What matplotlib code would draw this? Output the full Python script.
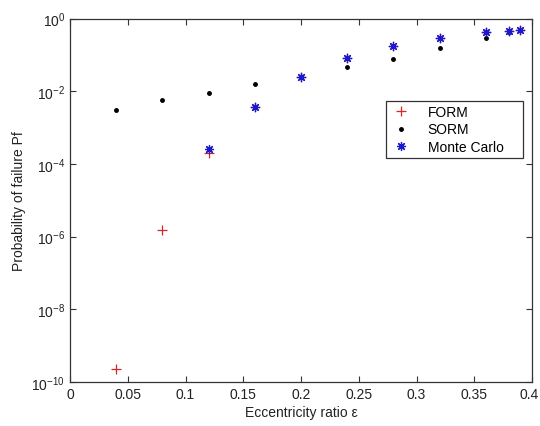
import matplotlib
matplotlib.use("Agg")
import matplotlib.pyplot as plt
import matplotlib.transforms as mtransforms
from matplotlib.ticker import FixedLocator, FixedFormatter, NullLocator

plt.rcParams['font.family'] = ['Liberation Sans', 'DejaVu Sans']
plt.rcParams['mathtext.fontset'] = 'custom'
plt.rcParams['mathtext.rm'] = 'Liberation Sans'
plt.rcParams['mathtext.it'] = 'Liberation Sans'
plt.rcParams['mathtext.default'] = 'regular'

x_form = [0.04, 0.08, 0.12, 0.16, 0.20, 0.24, 0.28, 0.32, 0.36, 0.38, 0.39]
pf_form = [2.3e-10, 1.5e-6, 2.0e-4, 3.6e-3, 2.4e-2, 8.0e-2, 0.17, 0.29, 0.42, 0.46, 0.48]

x_sorm = [0.04, 0.08, 0.12, 0.16, 0.20, 0.24, 0.28, 0.32, 0.36, 0.38, 0.39]
pf_sorm = [3.0e-3, 5.7e-3, 8.9e-3, 1.55e-2, 2.4e-2, 4.5e-2, 7.7e-2, 0.155, 0.30, 0.43, 0.47]

x_mc = [0.12, 0.16, 0.20, 0.24, 0.28, 0.32, 0.36, 0.38, 0.39]
pf_mc = [2.6e-4, 3.7e-3, 2.4e-2, 8.3e-2, 0.175, 0.296, 0.43, 0.46, 0.48]

xticks = [0, 0.05, 0.1, 0.15, 0.2, 0.25, 0.3, 0.35, 0.4]
xticklabels = ['0', '0.05', '0.1', '0.15', '0.2', '0.25', '0.3', '0.35', '0.4']
yticks = [1e-10, 1e-8, 1e-6, 1e-4, 1e-2, 1e0]
yticklabels = [r'$10^{-10}$', r'$10^{-8}$', r'$10^{-6}$', r'$10^{-4}$', r'$10^{-2}$', r'$10^{0}$']

fig = plt.figure(figsize=(5.4, 4.27), dpi=100)
ax = fig.add_axes([70/540, 1-383/427, (532-70)/540, (383-19.5)/427])

ax.plot(x_form, pf_form, linestyle='none', marker='+', color='#d62728', markersize=7, mew=0.9, label='FORM')
ax.plot(x_sorm, pf_sorm, linestyle='none', marker='.', color='black', markersize=5, label='SORM')
ax.plot(x_mc, pf_mc, linestyle='none', marker=(8, 2, 0), color='#1a1acc', markersize=6.5, mew=0.9, label='Monte Carlo')

ax.set_yscale('log')
ax.set_xlim(0, 0.4)
ax.set_ylim(1e-10, 1e0)
ax.xaxis.set_major_locator(FixedLocator(xticks))
ax.xaxis.set_major_formatter(FixedFormatter(xticklabels))
ax.yaxis.set_major_locator(FixedLocator(yticks))
ax.yaxis.set_major_formatter(FixedFormatter(yticklabels))
ax.yaxis.set_minor_locator(NullLocator())
ax.tick_params(direction='in', top=True, right=True, labelsize=10, length=4, width=0.8,
               colors='#333333', labelcolor='#222222')
for s in ax.spines.values():
    s.set_linewidth(0.9)
    s.set_color('#333333')

# nudge the last x tick label so it stays inside the figure
last = ax.get_xticklabels()[-1]
last.set_transform(last.get_transform() + mtransforms.ScaledTranslation(-3/100, 0, fig.dpi_scale_trans))

ax.set_xlabel('Eccentricity ratio ε', fontsize=10, color='#222222', labelpad=3)
ax.set_ylabel('Probability of failure Pf', fontsize=10, color='#222222')

x0 = (386-70)/462
y0 = 1-(159-19.5)/363.5
w = (523-386)/462
h = (159-94)/363.5
leg = ax.legend(loc='lower left', bbox_to_anchor=(x0, y0, w, h),
                mode='expand', fontsize=10, frameon=True, fancybox=False, edgecolor='#333333',
                framealpha=1, handlelength=1.5, borderaxespad=0, labelspacing=0.25,
                handletextpad=1.2, borderpad=0.3)
leg.get_frame().set_linewidth(0.9)

fig.savefig('out.png', dpi=100)
